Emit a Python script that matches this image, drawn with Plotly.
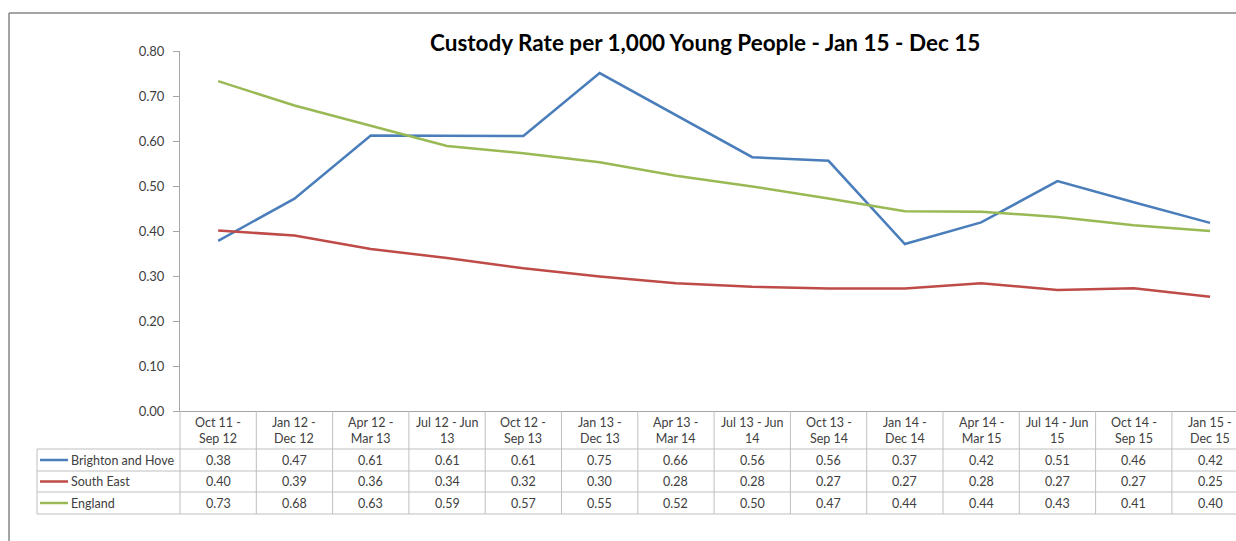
import plotly.graph_objects as go

# ---------------- data ----------------
categories = ["Oct 11 -<br>Sep 12", "Jan 12 -<br>Dec 12", "Apr 12 -<br>Mar 13", "Jul 12 - Jun<br>13",
              "Oct 12 -<br>Sep 13", "Jan 13 -<br>Dec 13", "Apr 13 -<br>Mar 14", "Jul 13 - Jun<br>14",
              "Oct 13 -<br>Sep 14", "Jan 14 -<br>Dec 14", "Apr 14 -<br>Mar 15", "Jul 14 - Jun<br>15",
              "Oct 14 -<br>Sep 15", "Jan 15 -<br>Dec 15"]
series_names = ["Brighton and Hove", "South East", "England"]
brighton = [0.378, 0.472, 0.612, 0.612, 0.611, 0.751, 0.657, 0.564, 0.556, 0.371, 0.419, 0.511, 0.464, 0.418]
south_east = [0.401, 0.390, 0.360, 0.340, 0.317, 0.299, 0.284, 0.276, 0.272, 0.272, 0.284, 0.269, 0.273, 0.254]
england = [0.733, 0.679, 0.634, 0.589, 0.573, 0.553, 0.523, 0.499, 0.472, 0.444, 0.443, 0.431, 0.413, 0.400]
y_ticks = [0.0, 0.1, 0.2, 0.3, 0.4, 0.5, 0.6, 0.7, 0.8]
title_text = "Custody Rate per 1,000 Young People - Jan 15 - Dec 15"

# ---------------- style ----------------
colors = ["#4A7EBB", "#BE4B48", "#98B954"]
FONT = "Lato"
TXT = "#404040"
AXIS = "#A6A6A6"
BORDER = "#868686"
GRID = "#BFBFBF"

W, H = 1236, 541
L, T, B = 180, 51, 130
plot_h = H - T - B           # 360
plot_w = W - L               # 1056
col_w = 76.3


def py(pix):                 # pixel row -> paper y
    return (H - B - pix) / plot_h


def px(pix):                 # pixel col -> paper x
    return (pix - L) / plot_w


x = list(range(len(categories)))
all_series = [brighton, south_east, england]

fig = go.Figure()
for name, vals, c in zip(series_names, all_series, colors):
    fig.add_trace(go.Scatter(x=x, y=vals, name=name, mode="lines",
                             line=dict(color=c, width=2.5), showlegend=False))

shapes = []
annotations = []

# outer chart border (top + left)
shapes.append(dict(type="line", xref="paper", yref="paper", x0=px(9), x1=1, y0=py(13), y1=py(13),
                   line=dict(color=BORDER, width=1.5)))
shapes.append(dict(type="line", xref="paper", yref="paper", x0=px(9), x1=px(9), y0=py(13), y1=py(H),
                   line=dict(color=BORDER, width=1.5)))

# data table grid
row_edges = [449, 471, 492, 514]
for r in row_edges:
    shapes.append(dict(type="line", xref="paper", yref="paper", x0=px(37), x1=1, y0=py(r), y1=py(r),
                       line=dict(color=GRID, width=1)))
# y axis continuation through table
shapes.append(dict(type="line", xref="paper", yref="paper", x0=0, x1=0, y0=0, y1=py(514),
                   line=dict(color=GRID, width=1)))
shapes.append(dict(type="line", xref="paper", yref="paper", x0=px(37), x1=px(37), y0=py(449), y1=py(514),
                   line=dict(color=GRID, width=1)))
for i in x[:-1]:
    shapes.append(dict(type="line", xref="x", yref="paper", x0=i + 0.5, x1=i + 0.5, y0=0, y1=py(514),
                       line=dict(color=GRID, width=1)))

# header labels
for i, lab in zip(x, categories):
    annotations.append(dict(x=i, xref="x", y=py(430), yref="paper", text=lab, showarrow=False,
                            font=dict(family=FONT, size=12.5, color=TXT), align="center",
                            xanchor="center", yanchor="middle"))

# rows
row_centers = [460, 481.5, 503]
for name, vals, c, rc in zip(series_names, all_series, colors, row_centers):
    shapes.append(dict(type="line", xref="paper", yref="paper", x0=px(40), x1=px(68), y0=py(rc), y1=py(rc),
                       line=dict(color=c, width=2.5)))
    annotations.append(dict(x=px(69), xref="paper", y=py(rc), yref="paper", text=name, showarrow=False,
                            font=dict(family=FONT, size=12.5, color=TXT), xanchor="left", yanchor="middle"))
    for i, v in zip(x, vals):
        annotations.append(dict(x=i, xref="x", y=py(rc), yref="paper", text=f"{v:.2f}", showarrow=False,
                                font=dict(family=FONT, size=12.5, color=TXT), xanchor="center",
                                yanchor="middle"))

# title
annotations.append(dict(x=px(705), xref="paper", y=py(42), yref="paper", text=f"<b>{title_text}</b>",
                        showarrow=False, font=dict(family=FONT, size=22.5, color="#000000"),
                        xanchor="center", yanchor="middle"))

fig.update_layout(
    width=W, height=H,
    margin=dict(l=L, r=0, t=T, b=B, pad=0),
    paper_bgcolor="white", plot_bgcolor="white",
    font=dict(family=FONT, color=TXT),
    xaxis=dict(range=[-0.5, -0.5 + plot_w / col_w], showticklabels=False, ticks="", showgrid=False,
               zeroline=False, showline=True, linecolor=AXIS, linewidth=1, fixedrange=True),
    yaxis=dict(range=[0, 0.8], tickvals=y_ticks, tickformat=".2f", ticks="outside", ticklen=6,
               tickcolor=AXIS, showgrid=False, zeroline=False, showline=True, linecolor=AXIS,
               linewidth=1, tickfont=dict(family=FONT, size=13, color=TXT), ticklabelstandoff=6,
               fixedrange=True),
    shapes=shapes,
    annotations=annotations,
)

fig.write_html("out.html", config={"displayModeBar": False},
               post_script="document.body.style.margin='0';document.body.style.overflow='hidden';")
